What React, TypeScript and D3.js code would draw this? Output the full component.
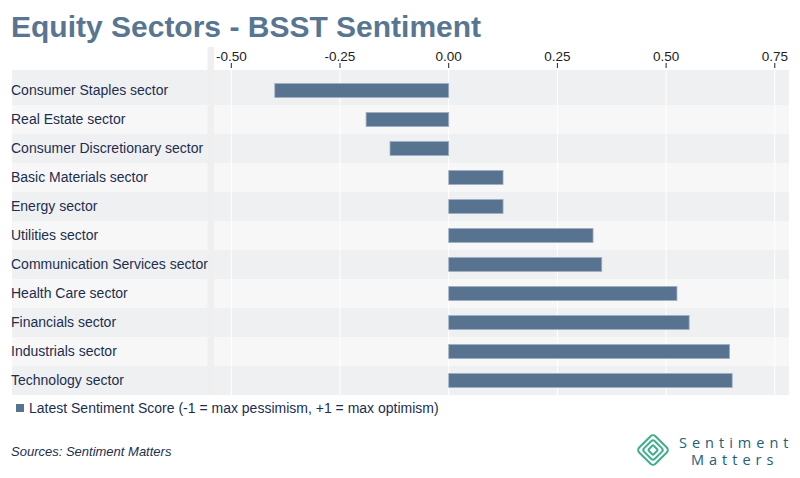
import { useEffect, useRef } from "react"
import * as d3 from "d3"

const sectors = [
  "Consumer Staples sector",
  "Real Estate sector",
  "Consumer Discretionary sector",
  "Basic Materials sector",
  "Energy sector",
  "Utilities sector",
  "Communication Services sector",
  "Health Care sector",
  "Financials sector",
  "Industrials sector",
  "Technology sector",
]

const scores = [-0.40, -0.19, -0.135, 0.125, 0.125, 0.332, 0.352, 0.525, 0.553, 0.646, 0.652]

const ticks = [-0.5, -0.25, 0, 0.25, 0.5, 0.75]

const legendLabel = "Latest Sentiment Score (-1 = max pessimism, +1 = max optimism)"

export default function App() {
  const svgRef = useRef<SVGSVGElement>(null)

  useEffect(() => {
    if (!svgRef.current) return
    const width = 800
    const height = 478

    const svg = d3.select(svgRef.current)
    svg.selectAll("*").remove()
    svg.attr("width", width).attr("height", height)

    const font = "Arial, 'Liberation Sans', sans-serif"

    // Title
    svg
      .append("text")
      .attr("x", 11)
      .attr("y", 37)
      .text("Equity Sectors - BSST Sentiment")
      .style("font-family", font)
      .style("font-weight", "bold")
      .style("font-size", "30px")
      .style("fill", "#587691")

    const x = d3.scaleLinear().domain([0, 0.25]).range([448.7, 557.4])

    const top = 76
    const rowH = 29
    const y = d3
      .scaleBand()
      .domain(sectors)
      .range([top, top + rowH * sectors.length])

    // Row bands
    svg
      .selectAll(".band")
      .data(sectors)
      .enter()
      .append("rect")
      .attr("x", 12)
      .attr("width", 789 - 12)
      .attr("y", (d, i) => (i === 0 ? 70 : (y(d) as number)))
      .attr("height", (d, i) => (i === 0 ? rowH + (top - 70) : rowH))
      .style("fill", (d, i) => (i % 2 === 0 ? "#eff0f2" : "#f7f7f7"))

    // Grey strip between labels and plot
    svg
      .append("rect")
      .attr("x", 207.5)
      .attr("y", 47)
      .attr("width", 6.5)
      .attr("height", top + rowH * sectors.length - 47)
      .style("fill", "#efefef")

    // Gridlines
    svg
      .selectAll(".grid")
      .data(ticks)
      .enter()
      .append("line")
      .attr("x1", (d) => x(d))
      .attr("x2", (d) => x(d))
      .attr("y1", 70)
      .attr("y2", top + rowH * sectors.length)
      .style("stroke", "#ffffff")
      .style("stroke-width", 1)

    // Tick marks and labels
    svg
      .selectAll(".tick")
      .data(ticks)
      .enter()
      .append("line")
      .attr("x1", (d) => x(d))
      .attr("x2", (d) => x(d))
      .attr("y1", 63)
      .attr("y2", 68)
      .style("stroke", "#222")
      .style("stroke-width", 1)

    svg
      .selectAll(".tickLabel")
      .data(ticks)
      .enter()
      .append("text")
      .attr("x", (d) => x(d))
      .attr("y", 61)
      .attr("text-anchor", "middle")
      .text((d) => d3.format(".2f")(d).replace("−", "-"))
      .style("font-family", font)
      .style("font-size", "13.5px")
      .style("fill", "#222")

    // Bars
    const barH = 14
    svg
      .selectAll(".bar")
      .data(scores)
      .enter()
      .append("rect")
      .attr("x", (d) => Math.min(x(0), x(d)))
      .attr("width", (d) => Math.abs(x(d) - x(0)))
      .attr("y", (d, i) => (y(sectors[i]) as number) + (rowH - barH) / 2)
      .attr("height", barH)
      .style("fill", "#57738f")
      .style("stroke", "#9fb0c2")
      .style("stroke-width", 0.8)

    // Category labels
    svg
      .selectAll(".catLabel")
      .data(sectors)
      .enter()
      .append("text")
      .attr("x", 11)
      .attr("y", (d) => (y(d) as number) + rowH / 2)
      .attr("dy", "0.35em")
      .text((d) => d)
      .style("font-family", font)
      .style("font-size", "14px")
      .style("fill", "#1c2e4f")

    // Legend
    svg
      .append("rect")
      .attr("x", 16)
      .attr("y", 404)
      .attr("width", 8)
      .attr("height", 8)
      .style("fill", "#57738f")
    svg
      .append("text")
      .attr("x", 29)
      .attr("y", 413)
      .text(legendLabel)
      .style("font-family", font)
      .style("font-size", "14px")
      .style("fill", "#1c2e4f")

    // Sources
    svg
      .append("text")
      .attr("x", 11)
      .attr("y", 456)
      .text("Sources: Sentiment Matters")
      .style("font-family", font)
      .style("font-style", "italic")
      .style("font-size", "13px")
      .style("fill", "#1c2e4f")

    // Logo
    const logo = svg.append("g").attr("transform", "translate(653,450) rotate(45)")
    ;[11.5, 7.5, 3.5].forEach((s) => {
      logo
        .append("rect")
        .attr("x", -s)
        .attr("y", -s)
        .attr("width", s * 2)
        .attr("height", s * 2)
        .attr("rx", s * 0.3)
        .style("fill", "none")
        .style("stroke", "#3fae8c")
        .style("stroke-width", 2)
    })
    svg
      .append("text")
      .attr("x", 679)
      .attr("y", 448)
      .text("Sentiment")
      .style("font-family", "'Open Sans', sans-serif")
      .style("font-size", "14.5px")
      .style("letter-spacing", "5px")
      .style("fill", "#22607a")
    svg
      .append("text")
      .attr("x", 691)
      .attr("y", 464.5)
      .text("Matters")
      .style("font-family", "'Open Sans', sans-serif")
      .style("font-size", "14.5px")
      .style("letter-spacing", "5px")
      .style("fill", "#22607a")
  }, [])

  return (
    <div style={{ margin: -8 }}>
      <svg ref={svgRef} style={{ display: "block" }}></svg>
    </div>
  )
}
